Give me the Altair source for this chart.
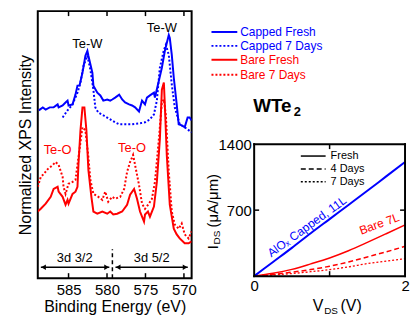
import altair as alt
import pandas as pd

BLUE = "#0000ff"
RED = "#ff0000"
FONT = "Liberation Sans"

# ---------------- XPS spectra (binding energy eV, normalized intensity a.u.) -------------
capped_fresh_E = [588.87, 588.35, 587.97, 587.45, 586.94, 586.42, 586.29, 585.77, 585.39, 585.13,
                  585.00, 584.48, 584.10, 583.84, 583.58, 583.19, 582.81, 582.55, 582.42, 581.90,
                  581.77, 581.26, 580.87, 580.48, 579.97, 579.58, 579.32, 578.94, 578.42, 578.03,
                  577.65, 577.13, 576.74, 576.35, 575.84, 575.45, 575.06, 574.81, 574.42, 573.90,
                  573.77, 573.26, 572.87, 572.48, 571.97, 571.84, 571.58, 571.32, 570.94, 570.68,
                  570.29, 569.90, 569.52, 569.26, 569.00]
capped_fresh_I = [6.17, 6.28, 6.20, 6.28, 6.28, 6.39, 6.28, 6.35, 6.46, 6.53,
                  6.35, 6.39, 6.75, 7.08, 7.08, 7.55, 8.18, 8.36, 8.18, 7.55,
                  7.08, 6.82, 6.72, 6.53, 6.57, 6.53, 6.57, 6.64, 6.75, 6.57,
                  6.46, 6.39, 6.35, 6.28, 6.13, 6.53, 6.39, 6.64, 6.72, 6.82,
                  6.64, 7.26, 7.74, 8.36, 8.94, 8.83, 8.21, 7.37, 6.39, 5.66,
                  5.62, 5.55, 5.91, 5.91, 5.80]

capped_7d_E = [585.77, 585.13, 584.48, 583.84, 583.45, 583.06, 582.55, 582.16, 581.77, 581.52,
               581.13, 580.48, 579.58, 578.94, 578.42, 577.65, 576.74, 575.84, 575.06, 574.42,
               573.90, 573.52, 573.13, 572.61, 572.35, 571.97, 571.58, 571.19, 570.55, 569.90,
               569.00]
capped_7d_I = [5.91, 6.17, 6.39, 6.82, 7.19, 7.81, 8.18, 7.66, 6.93, 6.28,
               6.09, 5.99, 5.84, 5.73, 5.66, 5.66, 5.66, 5.69, 5.73, 5.84,
               6.02, 6.53, 7.74, 8.39, 8.58, 8.21, 7.12, 6.28, 5.66, 5.55,
               5.36]

bare_fresh_E = [589.00, 588.61, 587.97, 587.32, 586.94, 586.42, 586.29, 585.77, 585.39, 585.13,
                585.00, 584.48, 584.10, 583.84, 583.71, 583.45, 583.19, 582.94, 582.68, 582.42,
                582.03, 581.77, 581.26, 580.61, 579.97, 579.58, 579.19, 578.68, 578.03, 577.39,
                577.00, 576.48, 576.10, 575.71, 575.19, 575.06, 574.68, 574.42, 573.90, 573.52,
                573.13, 572.87, 572.61, 572.48, 572.23, 571.84, 571.32, 570.94, 570.55, 569.90,
                569.39, 569.00]
bare_fresh_I = [2.45, 2.55, 2.74, 2.99, 3.28, 3.36, 3.18, 2.99, 2.70, 2.88,
                2.74, 3.10, 3.18, 3.36, 4.20, 5.44, 6.28, 6.28, 5.44, 3.98,
                2.99, 2.45, 2.37, 2.45, 2.37, 2.45, 2.34, 2.37, 2.45, 2.70,
                3.07, 3.28, 2.92, 2.45, 2.08, 2.34, 2.45, 2.26, 2.63, 3.54,
                5.11, 6.93, 7.19, 6.35, 4.53, 2.70, 1.82, 1.61, 1.46, 1.28,
                1.28, 1.35]

bare_7d_E = [589.00, 588.61, 588.23, 587.71, 587.06, 586.68, 586.29, 585.77, 585.65, 585.39,
             585.00, 584.48, 584.10, 583.71, 583.19, 582.81, 582.42, 582.16, 581.77, 581.13,
             580.61, 580.23, 579.84, 579.32, 578.94, 578.29, 577.77, 577.39, 577.00, 576.61,
             576.35, 575.84, 575.45, 575.06, 574.55, 574.16, 573.77, 573.26, 572.87, 572.61,
             572.35, 571.97, 571.58, 571.19, 570.68, 570.29, 569.90, 569.39, 569.00]
bare_7d_I = [3.36, 3.72, 3.83, 4.01, 4.16, 4.27, 4.16, 3.72, 3.36, 3.10,
             3.47, 3.54, 3.61, 4.45, 5.55, 5.44, 4.45, 3.61, 3.10, 2.99,
             2.88, 3.18, 2.81, 2.99, 2.92, 2.99, 3.28, 3.91, 4.27, 4.53,
             4.16, 3.43, 2.74, 2.55, 2.74, 2.92, 3.54, 5.11, 6.46, 6.57,
             5.99, 3.91, 2.45, 1.97, 1.82, 2.01, 1.61, 1.46, 1.72]

xps_ticks = [585, 580, 575, 570]

peak_labels = ["Te-W", "Te-W", "Te-O", "Te-O"]
peak_E = [582.55, 572.87, 586.42, 576.74]
peak_I = [8.61, 9.20, 4.71, 4.78]
peak_color = ["black", "black", RED, RED]

orbital_labels = ["3d 3/2", "3d 5/2"]
orbital_E = [584.2, 574.2]
orbital_I = [0.73, 0.73]
arrow_E1 = [588.6, 578.9]
arrow_E2 = [579.7, 569.5]
arrow_I = [0.40, 0.40]
head_E = [588.25, 580.05, 578.55, 569.85]
head_shape = ["triangle-left", "triangle-right", "triangle-left", "triangle-right"]
divider_E = [579.3]
divider_I = [0.0]
divider_I2 = [1.06]

# ---------------- I-V curves -------------
V = [0, 0.25, 0.5, 0.75, 1.0, 1.25, 1.5, 1.75, 2.0]
capped_fresh_IDS = [0, 150, 300, 455, 605, 755, 905, 1058, 1210]
bare_fresh_IDS = [0, 30, 72, 130, 193, 270, 358, 450, 544]
bare_4d_IDS = [0, 18, 42, 70, 105, 150, 204, 258, 316]
bare_7d_IDS = [0, 12, 28, 47, 70, 98, 133, 159, 186]
iv_xticks = [1]
iv_yticks = [700]
# frame of the I-V box (data coordinates)
frame_V = [0, 2, 0, 0]
frame_V2 = [0, 2, 2, 2]
frame_A = [0, 0, 0, 1400]
frame_A2 = [1400, 1400, 0, 1400]

# ======================= left panel =======================
E_enc = alt.X("E:Q", scale=alt.Scale(domain=[589, 569], nice=False, zero=False),
              axis=alt.Axis(values=xps_ticks, format="d", title="Binding Energy (eV)",
                            labelFontSize=15, titleFontSize=16, titleFontWeight="normal",
                            ticks=False, tickSize=0, domain=False, grid=False,
                            labelPadding=4, titlePadding=2, labelFlush=False,
                            labelColor="black", titleColor="black"))
I_enc = alt.Y("I:Q", scale=alt.Scale(domain=[0, 9.82], nice=False, zero=False),
              axis=alt.Axis(title="Normalized XPS Intensity", labels=False, ticks=False,
                            tickSize=0, domain=False, grid=False, titleFontSize=16,
                            titleFontWeight="normal", titlePadding=4, titleColor="black"))


def spectrum(E, I, color, dash=None):
    kw = dict(color=color, strokeWidth=2, clip=True)
    if dash:
        kw["strokeDash"] = dash
    return alt.Chart(pd.DataFrame({"E": E, "I": I})).mark_line(**kw).encode(x=E_enc, y=I_enc)


tick_df = pd.DataFrame({"E": xps_ticks})
ticks_bottom = alt.Chart(tick_df).mark_rule(color="black", strokeWidth=1.5).encode(
    x=E_enc, y=alt.value(264), y2=alt.value(269))
ticks_top = alt.Chart(tick_df).mark_rule(color="black", strokeWidth=1.5).encode(
    x=E_enc, y=alt.value(0), y2=alt.value(5))

peaks = alt.Chart(pd.DataFrame({"E": peak_E, "I": peak_I, "label": peak_labels,
                                "c": peak_color})).mark_text(fontSize=13).encode(
    x=E_enc, y=I_enc, text="label:N", color=alt.Color("c:N", scale=None))

orbitals = alt.Chart(pd.DataFrame({"E": orbital_E, "I": orbital_I,
                                   "label": orbital_labels})).mark_text(fontSize=13, color="black").encode(
    x=E_enc, y=I_enc, text="label:N")
arrows = alt.Chart(pd.DataFrame({"E": arrow_E1, "E2": arrow_E2, "I": arrow_I})).mark_rule(
    color="black", strokeWidth=1.5).encode(x=E_enc, x2="E2:Q", y=I_enc)
heads = alt.Chart(pd.DataFrame({"E": head_E, "I": [0.40] * 4, "s": head_shape})).mark_point(
    filled=True, color="black", size=30, opacity=1).encode(
    x=E_enc, y=I_enc, shape=alt.Shape("s:N", scale=None))
divider = alt.Chart(pd.DataFrame({"E": divider_E, "I": divider_I, "I2": divider_I2})).mark_rule(
    color="black", strokeWidth=1.5, strokeDash=[4, 3]).encode(x=E_enc, y=I_enc, y2="I2:Q")

left = alt.layer(
    spectrum(capped_7d_E, capped_7d_I, BLUE, [2, 2]),
    spectrum(capped_fresh_E, capped_fresh_I, BLUE),
    spectrum(bare_7d_E, bare_7d_I, RED, [2, 2]),
    spectrum(bare_fresh_E, bare_fresh_I, RED),
    ticks_bottom, ticks_top, peaks, orbitals, arrows, heads, divider,
).properties(width=155, height=269,
             view=alt.ViewBackground(stroke="black", strokeWidth=2))

# ======================= right panel (legend + I-V) =======================
RH = 267          # full height of right view; I-V box occupies its lower part
RW = 152
V_enc = alt.X("V:Q", scale=alt.Scale(domain=[0, 2], nice=False, zero=False),
              axis=alt.Axis(values=[0, 1, 2], format="d", title=None, labelFontSize=15,
                            ticks=False, tickSize=0, domain=False, grid=False,
                            labelPadding=2, labelFlush=False, labelColor="black"))
A_enc = alt.Y("A:Q", scale=alt.Scale(domain=[0, 1400], range=[RH, 134], nice=False, zero=False),
              axis=alt.Axis(values=[700, 1400], format="d", title=None, labelFontSize=15,
                            ticks=False, tickSize=0, domain=False, grid=False,
                            labelPadding=3, labelFlush=False, labelColor="black"))


def iv(vals, color, width, dash=None):
    kw = dict(color=color, strokeWidth=width, interpolate="monotone")
    if dash:
        kw["strokeDash"] = dash
    return alt.Chart(pd.DataFrame({"V": V, "A": vals})).mark_line(**kw).encode(x=V_enc, y=A_enc)


one = pd.DataFrame({"k": [0]})
ivx = pd.DataFrame({"V": iv_xticks})
ivy = pd.DataFrame({"A": iv_yticks})
frame = alt.Chart(pd.DataFrame({"V": frame_V, "V2": frame_V2, "A": frame_A, "A2": frame_A2})).mark_rule(
    color="black", strokeWidth=2, strokeCap="square").encode(x=V_enc, x2="V2:Q", y=A_enc, y2="A2:Q")

r_layers = [
    iv(bare_7d_IDS, RED, 1.3, [2, 2]),
    iv(bare_4d_IDS, RED, 1.5, [5, 3]),
    iv(bare_fresh_IDS, RED, 1.5),
    iv(capped_fresh_IDS, BLUE, 2),
    frame,
    alt.Chart(ivx).mark_rule(color="black", strokeWidth=1.5).encode(x=V_enc, y=alt.value(RH - 5), y2=alt.value(RH)),
    alt.Chart(ivx).mark_rule(color="black", strokeWidth=1.5).encode(x=V_enc, y=alt.value(134), y2=alt.value(139)),
    alt.Chart(ivy).mark_rule(color="black", strokeWidth=1.5).encode(y=A_enc, x=alt.value(0), x2=alt.value(5)),
    alt.Chart(ivy).mark_rule(color="black", strokeWidth=1.5).encode(y=A_enc, x=alt.value(RW - 5), x2=alt.value(RW)),
    alt.Chart(pd.DataFrame({"V": [0.70], "A": [525]})).mark_text(
        color=BLUE, fontSize=12, angle=324).encode(x=V_enc, y=A_enc, text=alt.value("AlOₓ Capped, 11L")),
    alt.Chart(pd.DataFrame({"V": [1.66], "A": [555]})).mark_text(
        color=RED, fontSize=12, angle=340).encode(x=V_enc, y=A_enc, text=alt.value("Bare 7L")),
]
# inner legend (ageing)
for label, dash, yy in [("Fresh", None, 146), ("4 Days", [5, 3], 159), ("7 Days", [2, 2], 172)]:
    kw = dict(color="black", strokeWidth=1.5)
    if dash:
        kw["strokeDash"] = dash
    r_layers.append(alt.Chart(one).mark_rule(**kw).encode(
        x=alt.value(47), x2=alt.value(72), y=alt.value(yy)))
    r_layers.append(alt.Chart(one).mark_text(fontSize=11, align="left", baseline="middle",
                                             color="black").encode(
        x=alt.value(77), y=alt.value(yy), text=alt.value(label)))
# top legend (XPS samples)
legend_items = [("Capped Fresh", BLUE, None, 21), ("Capped 7 Days", BLUE, [2, 2], 35),
                ("Bare Fresh", RED, None, 49), ("Bare 7 Days", RED, [2, 2], 64)]
for label, color, dash, yy in legend_items:
    kw = dict(color=color, strokeWidth=2)
    if dash:
        kw["strokeDash"] = dash
    r_layers.append(alt.Chart(one).mark_rule(**kw).encode(
        x=alt.value(-43), x2=alt.value(-17), y=alt.value(yy)))
    r_layers.append(alt.Chart(one).mark_text(color=color, fontSize=12, align="left",
                                             baseline="middle").encode(
        x=alt.value(-14), y=alt.value(yy), text=alt.value(label)))
r_layers += [
    alt.Chart(one).mark_text(fontSize=19, fontWeight="bold", align="left", baseline="middle",
                             color="black").encode(x=alt.value(-1), y=alt.value(96), text=alt.value("WTe")),
    alt.Chart(one).mark_text(fontSize=13, fontWeight="bold", align="left", baseline="middle",
                             color="black").encode(x=alt.value(40), y=alt.value(102), text=alt.value("2")),
    # axis titles with subscripts
    alt.Chart(one).mark_text(fontSize=16, align="left", baseline="middle", color="black").encode(
        x=alt.value(59), y=alt.value(RH + 30), text=alt.value("V")),
    alt.Chart(one).mark_text(fontSize=10, align="left", baseline="middle", color="black").encode(
        x=alt.value(70.5), y=alt.value(RH + 35), text=alt.value("DS")),
    alt.Chart(one).mark_text(fontSize=16, align="left", baseline="middle", color="black").encode(
        x=alt.value(87), y=alt.value(RH + 30), text=alt.value("(V)")),
    alt.Chart(one).mark_text(fontSize=15, align="left", baseline="middle", angle=270, color="black").encode(
        x=alt.value(-41), y=alt.value(240), text=alt.value("I")),
    alt.Chart(one).mark_text(fontSize=10, align="left", baseline="middle", angle=270, color="black").encode(
        x=alt.value(-37), y=alt.value(235), text=alt.value("DS")),
    alt.Chart(one).mark_text(fontSize=15, align="left", baseline="middle", angle=270, color="black").encode(
        x=alt.value(-41), y=alt.value(218), text=alt.value("(μA/μm)")),
]
right = alt.layer(*r_layers).properties(
    width=RW, height=RH, view=alt.ViewBackground(stroke="transparent", strokeWidth=0))

chart = alt.hconcat(left, right, spacing=63, bounds="flush").properties(
    padding={"left": 9, "top": 0, "right": 0, "bottom": 0}
).configure(font=FONT).configure_view(strokeWidth=0)

chart.save("out.html", embed_options={"renderer": "svg", "actions": False})
